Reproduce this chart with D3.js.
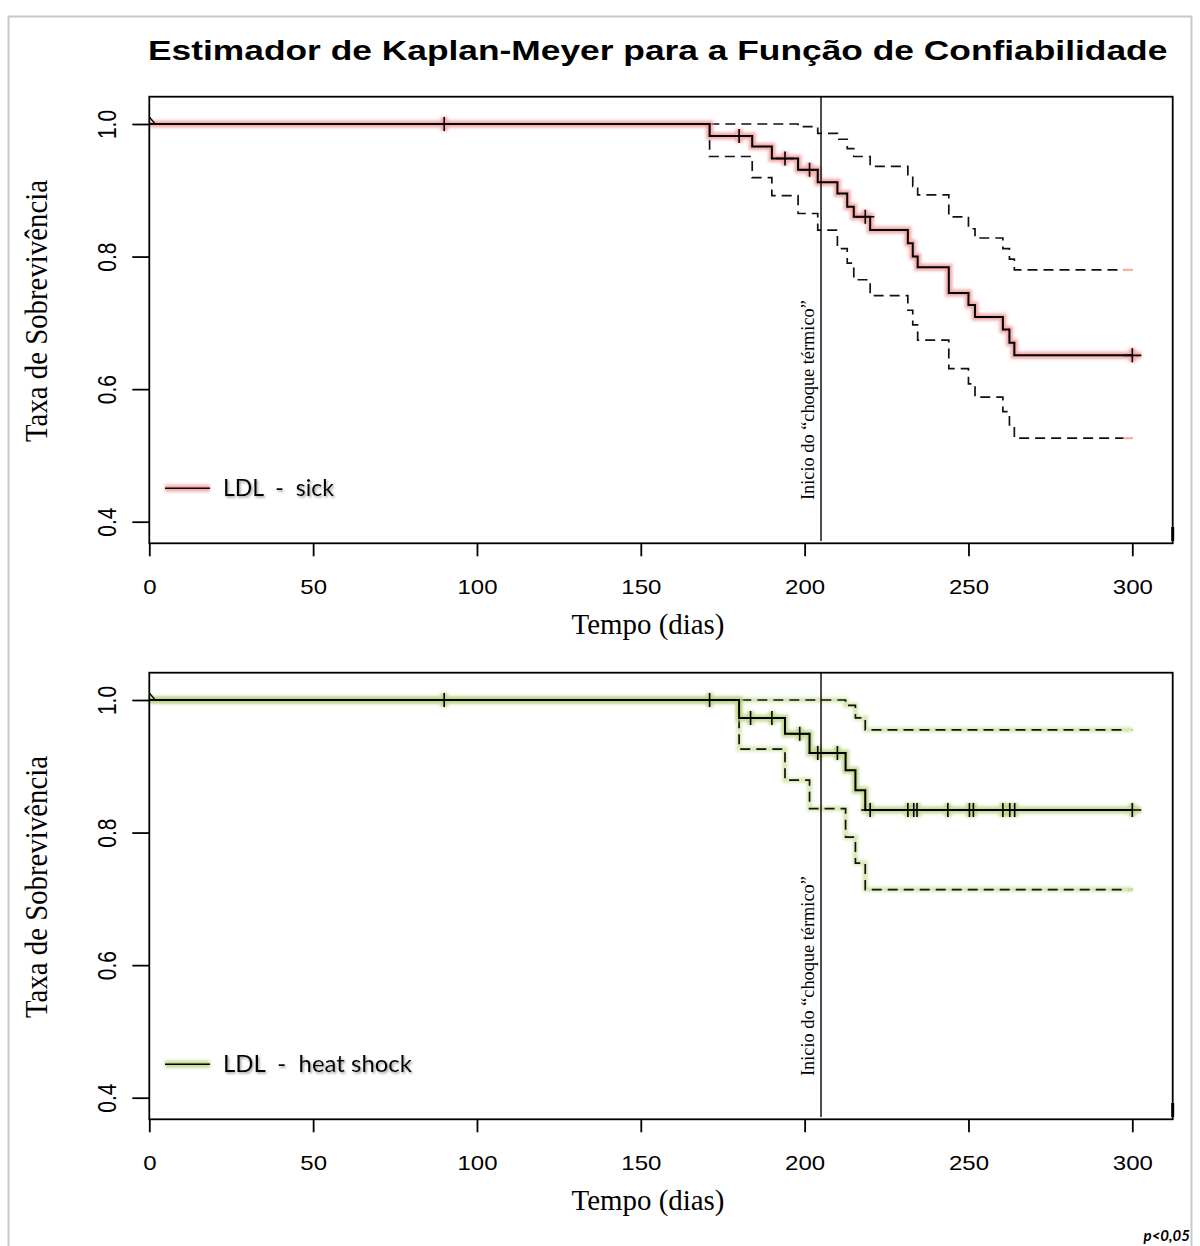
<!DOCTYPE html>
<html>
<head>
<meta charset="utf-8">
<script src="https://cdn.jsdelivr.net/npm/d3@7"></script>
<style>
  html, body { margin: 0; padding: 0; background: #fff; }
  svg { display: block; }
</style>
</head>
<body>
<svg id="chart" width="1200" height="1246"></svg>
<script>
// ---------------- DATA ----------------
const titleText = "Estimador de Kaplan-Meyer para a Função de Confiabilidade";
const xLabel = "Tempo (dias)";
const yLabel = "Taxa de Sobrevivência";
const markerText = "Inicio do \u201Cchoque térmico\u201D";
const markerDay = 205;
const endDay = 300;
const xTicks = [0, 50, 100, 150, 200, 250, 300];
const yTicks = [0.4, 0.6, 0.8, 1.0];
const yTickLabels = ["0.4", "0.6", "0.8", "1.0"];

// LDL - sick
const sickLabel = "LDL  -  sick";
const sickTimes = [0, 171, 184, 190, 198, 204, 210, 213, 215, 220, 231.5, 233, 234.5, 244, 250, 252, 260.5, 262.5, 264];
const sickSurv  = [1.0, 0.982, 0.966, 0.948, 0.931, 0.912, 0.895, 0.875, 0.860, 0.840, 0.820, 0.800, 0.784, 0.745, 0.727, 0.709, 0.690, 0.670, 0.651];
const sickUpper = [1.0, 1.0, 1.0, 1.0, 0.996, 0.986, 0.977, 0.963, 0.951, 0.936, 0.922, 0.906, 0.893, 0.860, 0.842, 0.828, 0.812, 0.796, 0.780];
const sickLower = [1.0, 0.951, 0.919, 0.892, 0.865, 0.840, 0.812, 0.790, 0.765, 0.741, 0.719, 0.697, 0.674, 0.631, 0.608, 0.588, 0.566, 0.546, 0.526];
const sickCensor = [90, 180, 194, 201.5, 218.5, 300];

// LDL - heat shock
const heatLabel = "LDL  -  heat shock";
const heatTimes = [0, 180, 194, 201.5, 212.5, 215.5, 218.5];
const heatSurv  = [1.0, 0.973, 0.949, 0.920, 0.894, 0.864, 0.834];
const heatUpper = [1.0, 1.0, 1.0, 1.0, 0.992, 0.973, 0.955];
const heatLower = [1.0, 0.926, 0.879, 0.836, 0.793, 0.754, 0.714];
const heatCensor = [90, 171, 183.5, 190, 198.5, 204, 210, 220, 231.5, 233.3, 234.3, 243.7, 250.3, 251.5, 260.5, 262.6, 264.1, 300];

const pText = "p<0,05";

// ---------------- DRAW ----------------
const svg = d3.select("#chart");
const defs = svg.append("defs");
defs.append("filter").attr("id", "blur").attr("filterUnits", "userSpaceOnUse")
  .attr("x", 0).attr("y", 0).attr("width", 1200).attr("height", 1246)
  .append("feGaussianBlur").attr("stdDeviation", 1.8);
const sh = defs.append("filter").attr("id", "shadow").attr("filterUnits", "userSpaceOnUse")
  .attr("x", 0).attr("y", 0).attr("width", 1200).attr("height", 1246);
sh.append("feDropShadow").attr("dx", 1.3).attr("dy", 1.6).attr("stdDeviation", 1.1).attr("flood-color", "#666").attr("flood-opacity", 0.65);

function fit(sel, target) {
  const w = sel.node().getComputedTextLength();
  const fs = parseFloat(sel.attr("font-size"));
  sel.attr("font-size", fs * target / w);
}

// outer frame
svg.append("rect").attr("x", 8.5).attr("y", 16.5).attr("width", 1183).attr("height", 1250)
  .attr("fill", "none").attr("stroke", "#c8c8c8").attr("stroke-width", 2);

// title (horizontally stretched like the reference)
const t = svg.append("text").attr("x", 0).attr("y", 0).attr("text-anchor", "start")
  .attr("font-family", "Liberation Sans, Arial, sans-serif").attr("font-weight", "bold")
  .attr("font-size", 28).attr("fill", "#000").text(titleText);
{
  const w = t.node().getComputedTextLength();
  t.attr("transform", `translate(148,60) scale(${1020 / w},1)`);
}

const x = d3.scaleLinear().domain([0, 300]).range([149.3, 1132.3]);

const panels = [
  { off: 0, times: sickTimes, surv: sickSurv, upper: sickUpper, lower: sickLower, censor: sickCensor,
    label: sickLabel, labelW: 111, glow: "#f39a9a", dashGlow: null, endDash: "#f7b4a4" },
  { off: 576, times: heatTimes, surv: heatSurv, upper: heatUpper, lower: heatLower, censor: heatCensor,
    label: heatLabel, labelW: 189, glow: "#b9d27f", dashGlow: "#cfe3a3", endDash: "#d6e9b4" }
];

panels.forEach(p => {
  const off = p.off;
  const y = d3.scaleLinear().domain([0.4, 1.0]).range([521.7 + off, 124 + off]);
  const g = svg.append("g");

  const pts = (vals) => {
    const a = p.times.map((tt, i) => [tt, vals[i]]);
    a.push([endDay, vals[vals.length - 1]]);
    return a;
  };
  const line = d3.line().x(d => x(d[0])).y(d => y(d[1])).curve(d3.curveStepAfter);

  // confidence bands
  [p.upper, p.lower].forEach(vals => {
    const d = line(pts(vals));
    if (p.dashGlow) {
      g.append("path").attr("d", d).attr("fill", "none").attr("stroke", p.dashGlow)
        .attr("stroke-width", 5).attr("opacity", 0.85).attr("filter", "url(#blur)");
    }
    g.append("path").attr("d", d).attr("fill", "none").attr("stroke", "#111")
      .attr("stroke-width", 1.7).attr("stroke-dasharray", "10,6");
    const last = vals[vals.length - 1];
    g.append("line").attr("x1", x(endDay) - 9).attr("x2", x(endDay)).attr("y1", y(last)).attr("y2", y(last))
      .attr("stroke", p.endDash).attr("stroke-width", 2.4);
  });

  // censor path
  const cPath = p.censor.map(c => {
    let idx = 0;
    for (let i = 0; i < p.times.length; i++) if (p.times[i] <= c) idx = i;
    const cx = x(c), cy = y(p.surv[idx]);
    return `M${cx - 9},${cy}H${cx + 9}M${cx},${cy - 7}V${cy + 7}`;
  }).join("");

  // glow under survival curve
  const sd = line(pts(p.surv));
  g.append("path").attr("d", sd + cPath).attr("fill", "none").attr("stroke", p.glow)
    .attr("stroke-width", 7).attr("opacity", 0.85).attr("filter", "url(#blur)");
  g.append("path").attr("d", sd).attr("fill", "none").attr("stroke", "#000").attr("stroke-width", 2);
  g.append("path").attr("d", cPath).attr("fill", "none").attr("stroke", "#000").attr("stroke-width", 1.6);

  // small diagonal at origin
  g.append("line").attr("x1", x(0)).attr("y1", y(1) - 7).attr("x2", x(0) + 6).attr("y2", y(1))
    .attr("stroke", "#000").attr("stroke-width", 1.3);

  // box
  g.append("rect").attr("x", 149.3).attr("y", 96.7 + off).attr("width", 1023.4).attr("height", 446.6)
    .attr("fill", "none").attr("stroke", "#000").attr("stroke-width", 1.8);
  g.append("line").attr("x1", 1172.7).attr("x2", 1172.7).attr("y1", 527 + off).attr("y2", 541 + off)
    .attr("stroke", "#000").attr("stroke-width", 3);

  // x axis
  const xa = g.append("g").attr("transform", `translate(0,${543.3 + off})`)
    .call(d3.axisBottom(x).tickValues(xTicks).tickSize(13).tickPadding(24).tickFormat(d3.format("d")));
  xa.select(".domain").remove();
  xa.selectAll(".tick line").attr("stroke", "#000").attr("stroke-width", 1.8);
  xa.selectAll(".tick text").attr("font-family", "Liberation Sans, Arial, sans-serif").attr("font-size", 20)
    .attr("fill", "#000").attr("transform", "scale(1.2,1)");

  // y axis
  const ya = g.append("g").attr("transform", "translate(149.3,0)")
    .call(d3.axisLeft(y).tickValues(yTicks).tickSize(17).tickFormat((d, i) => yTickLabels[i]));
  ya.select(".domain").remove();
  ya.selectAll(".tick line").attr("stroke", "#000").attr("stroke-width", 1.8);
  ya.selectAll(".tick text").attr("x", 0).attr("dy", 0).attr("text-anchor", "middle")
    .attr("transform", "translate(-33,0) scale(1.25,1) rotate(-90)")
    .attr("font-family", "Liberation Sans, Arial, sans-serif").attr("font-size", 21).attr("fill", "#000");

  // axis titles
  const xt = g.append("text").attr("x", 648).attr("y", 634 + off).attr("text-anchor", "middle")
    .attr("font-family", "Liberation Serif, Times New Roman, serif").attr("font-size", 24).attr("fill", "#000").text(xLabel);
  fit(xt, 153);
  const yt = g.append("text").attr("text-anchor", "middle")
    .attr("transform", `translate(47,${311 + off}) scale(1.1,1) rotate(-90)`)
    .attr("font-family", "Liberation Serif, Times New Roman, serif").attr("font-size", 26).attr("fill", "#000").text(yLabel);
  fit(yt, 262);

  // marker line + text
  g.append("line").attr("x1", x(markerDay)).attr("x2", x(markerDay)).attr("y1", 96.7 + off).attr("y2", 541 + off)
    .attr("stroke", "#000").attr("stroke-width", 1.4);
  const mt = g.append("text").attr("text-anchor", "start")
    .attr("transform", `translate(814,${500 + off}) rotate(-90)`)
    .attr("font-family", "Liberation Serif, Times New Roman, serif").attr("font-size", 15).attr("fill", "#000").text(markerText);
  fit(mt, 200);

  // legend
  g.append("line").attr("x1", 165).attr("x2", 210).attr("y1", 488.3 + off).attr("y2", 488.3 + off)
    .attr("stroke", p.glow).attr("stroke-width", 7).attr("opacity", 0.85).attr("filter", "url(#blur)");
  g.append("line").attr("x1", 165).attr("x2", 210).attr("y1", 488.3 + off).attr("y2", 488.3 + off)
    .attr("stroke", "#000").attr("stroke-width", 1.6);
  const lt = g.append("text").attr("x", 223).attr("y", 496 + off)
    .attr("font-family", "Lato, Noto Sans, sans-serif").attr("font-size", 21).attr("fill", "#000")
    .attr("filter", "url(#shadow)").attr("xml:space", "preserve").style("white-space", "pre").text(p.label);
  fit(lt, p.labelW);
});

// p-value note
svg.append("text").attr("x", 1190).attr("y", 1241).attr("text-anchor", "end")
  .attr("font-family", "Lato, Noto Sans, sans-serif").attr("font-weight", "bold").attr("font-style", "italic")
  .attr("font-size", 15).attr("fill", "#000").text(pText);
</script>
</body>
</html>
